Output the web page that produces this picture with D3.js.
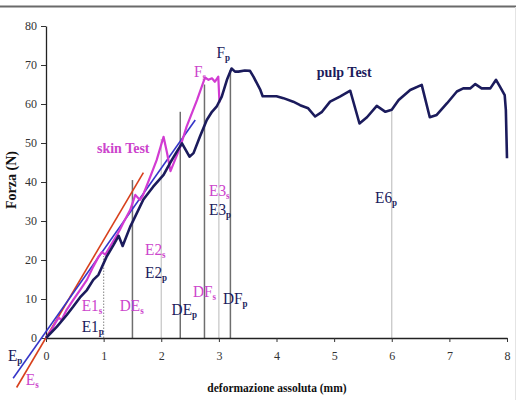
<!DOCTYPE html>
<html>
<head>
<meta charset="utf-8">
<script src="https://cdn.jsdelivr.net/npm/d3@7"></script>
<style>
  html, body { margin: 0; padding: 0; background: #fff; }
  svg { display: block; }
</style>
</head>
<body>
<svg id="chart" width="516" height="400"></svg>
<script>
// ---- data ----
const xTicks = [0, 1, 2, 3, 4, 5, 6, 7, 8];
const yTicks = [0, 10, 20, 30, 40, 50, 60, 70, 80];
const xTitle = "deformazione assoluta (mm)";
const yTitle = "Forza (N)";

const pulpX = [0, 0.19, 0.36, 0.47, 0.59, 0.71, 0.82, 0.91, 1.05, 1.17, 1.26, 1.33, 1.46, 1.52, 1.69, 1.86, 2.04, 2.15, 2.27, 2.36, 2.49, 2.56, 2.67, 2.79, 2.88, 2.96, 3.05, 3.14, 3.22, 3.28, 3.34, 3.45, 3.54, 3.60, 3.72, 3.76, 4.00, 4.12, 4.29, 4.41, 4.55, 4.67, 4.79, 4.93, 5.10, 5.28, 5.44, 5.57, 5.74, 5.89, 6.00, 6.12, 6.32, 6.52, 6.66, 6.78, 6.96, 7.13, 7.24, 7.36, 7.45, 7.56, 7.71, 7.81, 7.88, 7.96, 7.98, 8.00];
const pulpY = [0, 2.9, 5.9, 8.0, 10.4, 12.3, 14.9, 16.2, 20.8, 23.8, 26.2, 23.6, 28.5, 30.3, 35.5, 38.8, 41.8, 44.8, 47.8, 49.9, 46.5, 47.4, 51.6, 55.9, 58.0, 59.3, 61.9, 66.2, 69.1, 68.3, 68.3, 68.6, 68.5, 67.0, 63.6, 62.0, 62.0, 61.5, 60.6, 59.7, 58.9, 56.8, 58.0, 60.6, 61.9, 63.4, 55.0, 56.6, 59.5, 58.0, 58.5, 61.0, 63.6, 64.9, 56.6, 57.2, 60.2, 63.2, 64.0, 64.0, 65.1, 64.0, 64.0, 66.2, 64.4, 62.3, 58.5, 46.1];

const skinX = [0, 0.10, 0.16, 0.22, 0.27, 0.35, 0.47, 0.59, 0.71, 0.82, 0.91, 0.97, 1.03, 1.11, 1.20, 1.28, 1.34, 1.46, 1.55, 1.63, 1.68, 1.81, 1.92, 2.04, 2.10, 2.16, 2.33, 2.44, 2.62, 2.76, 2.82, 2.88, 2.93, 2.99, 3.01];
const skinY = [0, 2.2, 3.8, 5.2, 4.6, 7.0, 9.7, 12.3, 14.9, 18.3, 20.8, 22.0, 21.4, 23.4, 25.6, 27.7, 29.5, 32.8, 36.7, 35.4, 36.5, 41.4, 45.6, 51.6, 47.5, 42.8, 49.0, 54.2, 61.0, 66.8, 66.2, 66.6, 65.7, 67.0, 60.4];

// linear fits (end points)
const fitPulpX = [-0.57, 2.59];
const fitPulpY = [-10.3, 55.9];
const fitSkinX = [-0.51, 1.69];
const fitSkinY = [-12.7, 42.4];

// vertical markers
const markerNames = ["E1", "DEs", "E2", "DEp", "DFs", "E3", "DFp", "E6"];
const markerX = [1.0, 1.5, 2.0, 2.33, 2.75, 3.0, 3.2, 6.0];
const markerTop = [21.0, 40.5, 51.0, 58.0, 65.0, 60.0, 68.7, 58.5];

// annotations (main text, subscript, series, data x, data y)
const labelMain = ["F", "F", "skin Test", "pulp Test", "E3", "E3", "E2", "E2", "DE", "DE", "DF", "DF", "E1", "E1", "E6", "E", "E"];
const labelSub  = ["p", "s", "", "", "s", "p", "s", "p", "s", "p", "s", "p", "s", "p", "p", "p", "s"];
const labelSeries = ["p", "s", "s", "p", "s", "p", "s", "p", "s", "p", "s", "p", "s", "p", "p", "p", "s"];
const labelX = [2.96, 2.57, 0.885, 4.70, 2.83, 2.83, 1.72, 1.72, 1.28, 2.18, 2.55, 3.07, 0.62, 0.62, 5.71, -0.66, -0.35];
const labelY = [71.8, 66.9, 47.4, 66.9, 36.4, 31.5, 21.2, 15.4, 6.9, 5.9, 10.5, 8.7, 6.9, 1.6, 34.6, -5.9, -12.0];

// ---- drawing ----
const SERIF = "'Liberation Serif', 'Times New Roman', Times, serif";
const svg = d3.select("#chart").attr("font-family", SERIF);
const x = d3.scaleLinear().domain([0, 8]).range([46, 507]);
const y = d3.scaleLinear().domain([0, 80]).range([338, 26]);

const NAVY = "#1b1b5c";
const MAGENTA = "#d23bd2";
const MAG_TXT = "#cc44cc";
const BLUE = "#3535c8";
const RED = "#d8401c";

// top frame line
svg.append("line").attr("x1", 0).attr("x2", 516).attr("y1", 6.5).attr("y2", 6.5)
  .attr("stroke", "#6a6a6a").attr("stroke-width", 2);
svg.append("line").attr("x1", 515.5).attr("x2", 515.5).attr("y1", 7).attr("y2", 400)
  .attr("stroke", "#e4e4e4").attr("stroke-width", 1);

// vertical markers
svg.append("g").selectAll("line").data(markerNames).join("line")
  .attr("x1", (d, i) => x(markerX[i])).attr("x2", (d, i) => x(markerX[i]))
  .attr("y1", y(0)).attr("y2", (d, i) => y(markerTop[i]))
  .attr("stroke", d => d.startsWith("D") ? "#6e6e6e" : (d === "E1" ? "#9a9a9a" : "#c4c4c4"))
  .attr("stroke-width", d => d.startsWith("D") ? 1.5 : 1.2)
  .attr("stroke-dasharray", d => d === "E1" ? "1.5,1.5" : null);

// axes
const gx = svg.append("g").attr("transform", `translate(0,${y(0)})`)
  .call(d3.axisBottom(x).tickValues(xTicks).tickSize(4).tickSizeOuter(0).tickPadding(9));
const gy = svg.append("g").attr("transform", `translate(${x(0)},0)`)
  .call(d3.axisLeft(y).tickValues(yTicks).tickSize(5).tickSizeOuter(0).tickPadding(4));
[gx, gy].forEach(g => {
  g.attr("font-family", SERIF).attr("font-size", 12);
  g.select(".domain").attr("stroke", "#222").attr("stroke-width", 1.3);
  g.selectAll(".tick line").attr("stroke", "#333");
  g.selectAll(".tick text").attr("fill", "#333").attr("font-family", SERIF);
});

// axis titles
svg.append("text").attr("x", 277).attr("y", 392).attr("text-anchor", "middle")
  .attr("font-size", 11.5).attr("font-weight", "bold").attr("fill", "#111").text(xTitle);
svg.append("text").attr("transform", "translate(16,180) rotate(-90)").attr("text-anchor", "middle")
  .attr("font-size", 14).attr("font-weight", "bold").attr("fill", "#111").text(yTitle);

// fit lines
const seg = d3.line().x(d => x(d[0])).y(d => y(d[1]));
svg.append("path").datum(d3.zip(fitSkinX, fitSkinY)).attr("d", seg)
  .attr("fill", "none").attr("stroke", RED).attr("stroke-width", 1.6);
svg.append("path").datum(d3.zip(fitPulpX, fitPulpY)).attr("d", seg)
  .attr("fill", "none").attr("stroke", BLUE).attr("stroke-width", 1.6);

// curves
svg.append("path").datum(d3.zip(skinX, skinY)).attr("d", seg)
  .attr("fill", "none").attr("stroke", MAGENTA).attr("stroke-width", 2.2)
  .attr("stroke-linejoin", "round");
svg.append("path").datum(d3.zip(pulpX, pulpY)).attr("d", seg)
  .attr("fill", "none").attr("stroke", NAVY).attr("stroke-width", 2.6)
  .attr("stroke-linejoin", "round");

// annotations
const ann = svg.append("g");
labelMain.forEach((t, i) => {
  const isTitle = t.indexOf("Test") >= 0;
  const col = labelSeries[i] === "s" ? MAG_TXT : NAVY;
  const txt = ann.append("text")
    .attr("transform", `translate(${x(labelX[i])},${y(labelY[i])}) scale(${isTitle ? 1 : 0.9},1)`)
    .attr("fill", col)
    .attr("font-size", isTitle ? 14 : 17)
    .attr("font-weight", isTitle ? "bold" : "normal");
  txt.append("tspan").text(t);
  if (labelSub[i]) {
    txt.append("tspan").attr("dy", 3).attr("font-size", 10).attr("font-weight", "bold").text(labelSub[i]);
  }
});
</script>
</body>
</html>
